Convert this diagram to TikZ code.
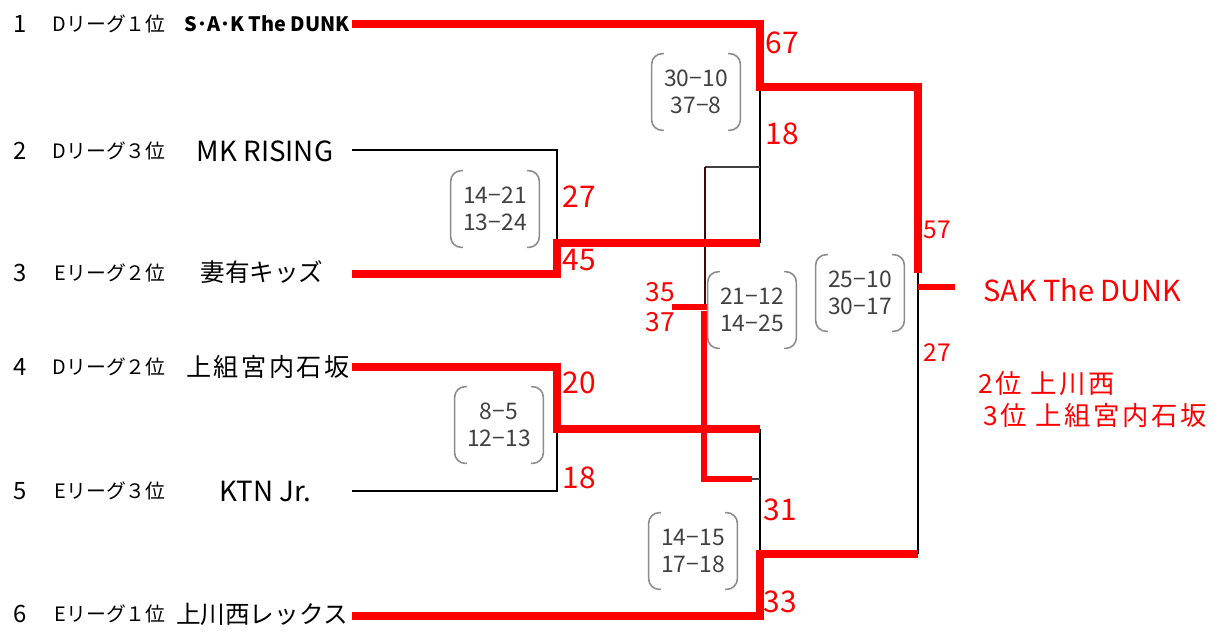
\documentclass[tikz,border=0pt]{standalone}
\usepackage{fontspec}
\setmainfont{Noto Sans CJK JP}
\newfontfamily\widejp[LetterSpace=10]{Noto Sans CJK JP}
\definecolor{boxgray}{HTML}{8C8C8C}
\definecolor{textgray}{HTML}{404040}
\definecolor{thirdline}{HTML}{3C0A0A}
\tikzset{
  redline/.style={draw=red, line width=4.3pt},
  blackline/.style={draw=black, line width=1.5pt},
  thinline/.style={draw=black!75, line width=0.6pt},
  score/.style={text=red, inner sep=0pt, font=\fontsize{17pt}{17pt}\selectfont},
  smallscore/.style={text=red, inner sep=0pt, font=\fontsize{14pt}{14pt}\selectfont},
  setbox/.style={minimum width=1.76cm, minimum height=1.52cm, inner sep=0pt, align=center, text=textgray, font=\fontsize{13pt}{15.3pt}\selectfont},
  pair/.style={draw=boxgray, line width=0.9pt, rounded corners=6pt},
  num/.style={inner sep=0pt, font=\fontsize{13.6pt}{14pt}\selectfont},
  league/.style={inner sep=0pt, anchor=east, font=\fontsize{11.3pt}{12pt}\selectfont},
  team/.style={inner sep=0pt, font=\fontsize{15.8pt}{16pt}\selectfont},
  kanjiteam/.style={inner sep=0pt, anchor=east, font=\widejp\fontsize{14.3pt}{15pt}\selectfont},
  result/.style={text=red, inner sep=0pt, anchor=west, font=\widejp\fontsize{15pt}{15pt}\selectfont},
}
\begin{document}
\begin{tikzpicture}[x=0.02cm, y=-0.02cm]
\useasboundingbox (0,0) rectangle (1225,633);
\foreach \i/\y in {1/24,2/151,3/273,4/367,5/491,6/614} \node[num] (n\i) at (20,\y) {\i};
\foreach \i/\y/\t in {1/24/Dリーグ１位,2/151/Dリーグ３位,3/273/Eリーグ２位,4/367/Dリーグ２位,5/491/Eリーグ３位,6/614/Eリーグ１位} \node[league] (l\i) at (166,\y) {\t};
\node[team, anchor=east, font=\bfseries\fontsize{11.3pt}{12pt}\selectfont] (t1) at (350,24) {S･A･K The DUNK};
\node[team] (t2) at (265,151) {MK RISING};
\node[team, font=\fontsize{14pt}{15pt}\selectfont] (t3) at (262,272) {妻有キッズ};
\node[kanjiteam] (t4) at (350,367) {上組宮内石坂};
\node[team] (t5) at (265,491) {KTN Jr.};
\node[team, anchor=east, font=\fontsize{14pt}{15pt}\selectfont] (t6) at (348,614) {上川西レックス};
\foreach \i/\y in {1/24,2/150,3/274,4/367,5/491,6/616} \coordinate (s\i) at (352,\y);
\coordinate (q1) at (557,243);
\coordinate (q2) at (557,429);
\coordinate (r1) at (760,243);
\coordinate (r2) at (760,429);
\coordinate (h1) at (760,87);
\coordinate (h2) at (760,554);
\coordinate (k1) at (918,87);
\coordinate (k2) at (918,554);
\coordinate (f) at (918,273);
\coordinate (w) at (918,287);
\coordinate (fe) at (955,287);
\coordinate (c1) at (760,167);
\coordinate (c2) at (705,167);
\coordinate (c3) at (705,307);
\coordinate (c4) at (672,307);
\coordinate (c5) at (704,479);
\coordinate (c6) at (752,479);
\coordinate (c7) at (760,479);
\draw[blackline] (s2) -| (q1);
\draw[blackline] (s5) -| (q2);
\draw[blackline] (r1) -- (h1);
\draw[blackline] (r2) -- (h2);
\draw[blackline] (k2) -- (f);
\draw[thinline] (c1) -- (c2);
\draw[thirdline, line width=0.8pt] (c2) -- (c3);
\draw[thinline] (c6) -- (c7);
\draw[redline, line width=3.3pt] (c4) -- ([xshift=1.5pt]c3);
\draw[redline, line width=3.3pt] ([yshift=-2pt]c3 -| c5) -- (c5) -- (c6);
\draw[redline] (s3) -| (q1) -- (r1);
\draw[redline] (s4) -| (q2) -- (r2);
\draw[redline] (s1) -| (h1) -- (k1) -- (f);
\draw[redline] (s6) -| (h2) -- (k2);
\draw[redline, line width=3.6pt] (w) -- (fe);
\foreach \i/\x/\y/\a/\b in {1/696/92/30−10/37−8,2/495/209/14−21/13−24,3/752/310/21−12/14−25,4/860/293/25−10/30−17,5/499/425/8−5/12−13,6/693/551/14−15/17−18} {
  \node[setbox] (b\i) at (\x,\y) {\a\\\b};
  \draw[pair] ([xshift=7pt]b\i.north west) -- (b\i.north west) -- (b\i.south west) -- ([xshift=7pt]b\i.south west);
  \draw[pair] ([xshift=-7pt]b\i.north east) -- (b\i.north east) -- (b\i.south east) -- ([xshift=-7pt]b\i.south east);
}
\node[score] (sf1a) at (782,43) {67};
\node[score] (sf1b) at (782,134) {18};
\node[score] (qf1a) at (579,197) {27};
\node[score] (qf1b) at (579,260) {45};
\node[score] (qf2a) at (579,383) {20};
\node[score] (qf2b) at (579,478) {18};
\node[score] (sf2a) at (780,510) {31};
\node[score] (sf2b) at (780,602) {33};
\node[smallscore] (fa) at (937,230) {57};
\node[smallscore] (fb) at (937,353) {27};
\node[score, font=\fontsize{15pt}{15pt}\selectfont] (tpa) at (660,292) {35};
\node[score, font=\fontsize{15pt}{15pt}\selectfont] (tpb) at (660,322) {37};
\node[result, font=\fontsize{16.5pt}{17pt}\selectfont] (champ) at (983,290) {SAK The DUNK};
\node[result] (second) at (978,384) {2位 上川西};
\node[result] (third) at (983,415) {3位 上組宮内石坂};
\end{tikzpicture}
\end{document}
